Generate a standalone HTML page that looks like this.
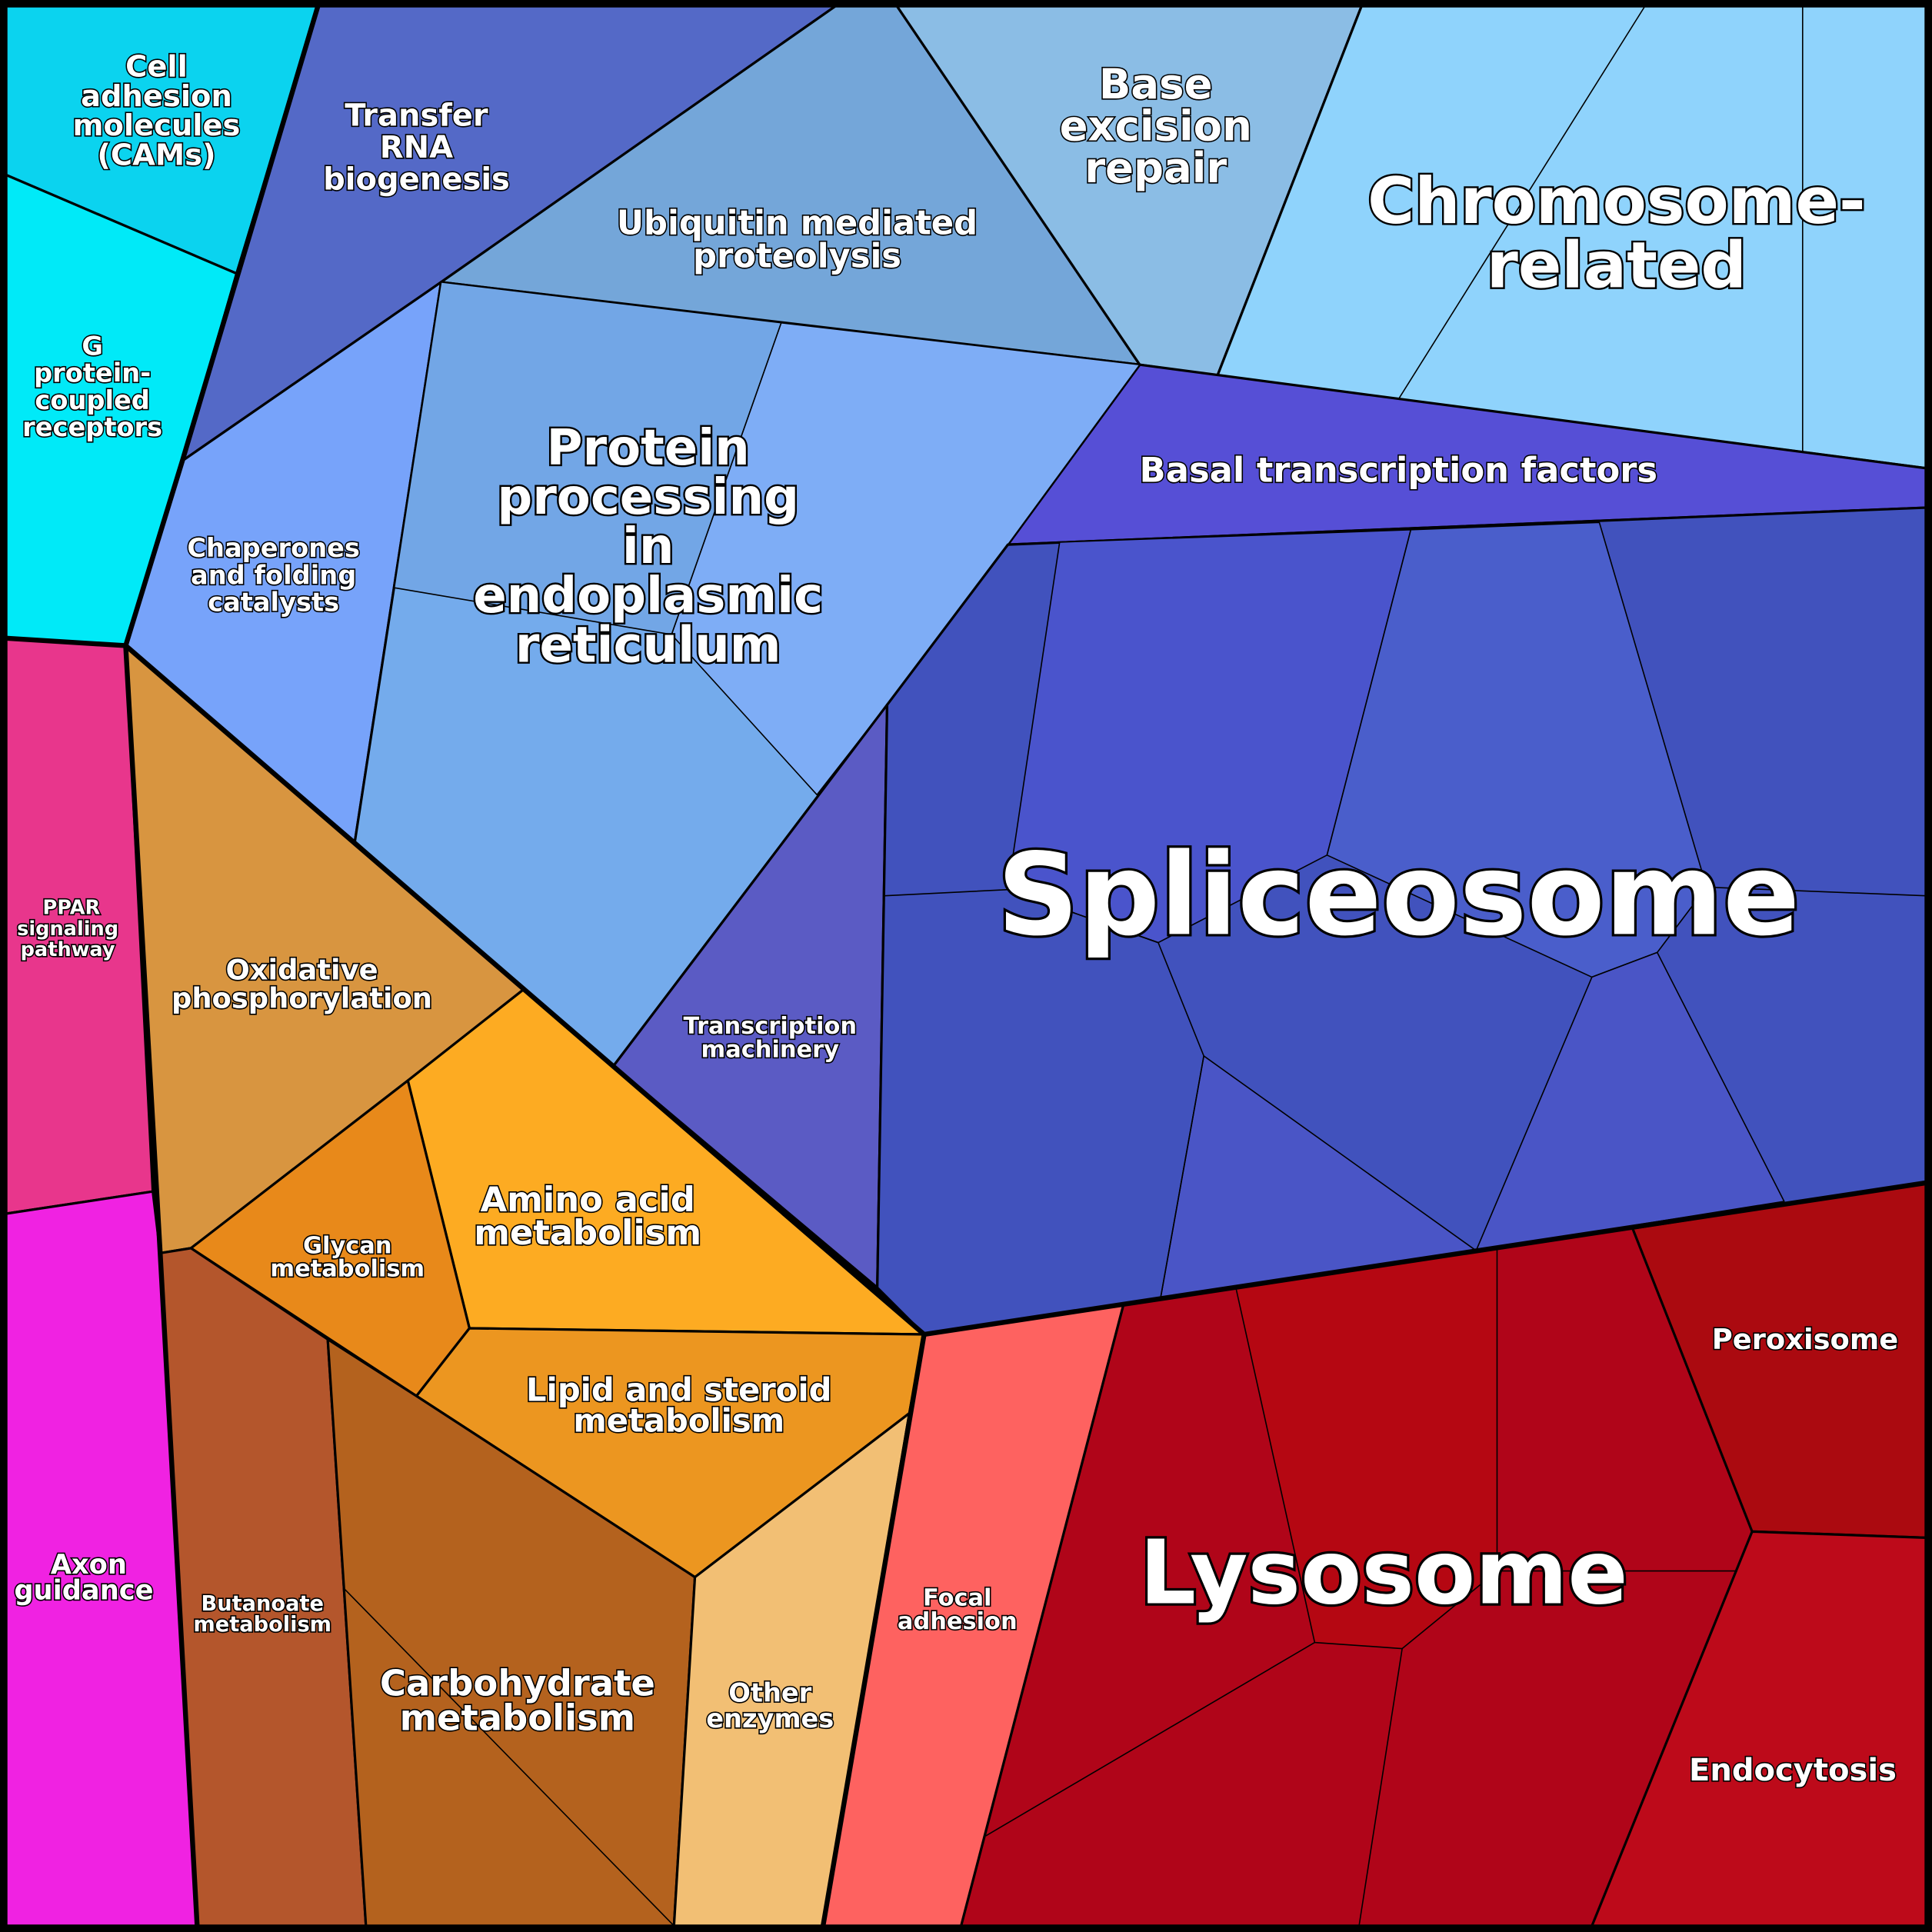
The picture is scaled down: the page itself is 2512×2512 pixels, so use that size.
<!DOCTYPE html>
<html><head><meta charset="utf-8"><style>
html,body{margin:0;padding:0;background:#000}
svg{display:block}
text{font-family:"DejaVu Sans","Liberation Sans",sans-serif;font-weight:bold;fill:#fff;stroke:#000;paint-order:stroke;text-anchor:middle}
</style></head><body>
<svg width="2512" height="2512" viewBox="0 0 1568 1568" xmlns="http://www.w3.org/2000/svg">
<rect x="0" y="0" width="1568" height="1568" fill="#000"/>
<g stroke="#000" stroke-width="2" stroke-linejoin="round">
<polygon points="5,5 258,5 192,222 5,142" fill="#0bd3ef"/>
<polygon points="5,142 192,222 148,374 102,524 5,518" fill="#00eaf8"/>
<polygon points="258,5 678,5 358,229 148,374 192,222" fill="#5469c7"/>
<polygon points="678,5 728,5 925,296 634,262 358,229" fill="#74a6d9"/>
<polygon points="728,5 1105,5 988,305 925,296" fill="#8bbde5"/>
<polygon points="1105,5 1563,5 1563,380 988,305" fill="#8fd3fc"/>
<polygon points="925,296 1563,380 1563,412 818,442" fill="#564fd6"/>
<polygon points="148,374 358,229 288,683 102,524" fill="#77a3fa"/>
<polygon points="358,229 925,296 818,442 720,572 498,865 425,803 288,683" fill="#74abec"/>
<polygon points="634,262 925,296 818,442 720,572 663,645 545,515" fill="#7eadf6" stroke-width="1"/>
<polygon points="358,229 634,262 545,515 320,477" fill="#72a6e6" stroke-width="1"/>
<polygon points="720,572 712,1045 498,865" fill="#5b5bc4"/>
<polygon points="818,442 1563,412 1563,960 750,1083 712,1045 720,572" fill="#4152bd"/>
<polygon points="860,440 1145,430 1077,694 940,765 818,722" fill="#4a54cc" stroke-width="1"/>
<polygon points="1145,430 1298,424 1385,720 1345,773 1292,793 1077,694" fill="#4a5ecb" stroke-width="1"/>
<polygon points="977,857 1198,1015 942,1053" fill="#4a55c6" stroke-width="1"/>
<polygon points="1292,793 1345,773 1448,975 1198,1015" fill="#4a55c6" stroke-width="1"/>
<polygon points="912,1058 1563,960 1563,1563 780,1563" fill="#b00519"/>
<polygon points="1003,1045 1215,1012 1215,1275 1138,1338 1067,1333" fill="#b50712" stroke-width="1"/>
<polygon points="750,1083 912,1058 780,1563 668,1563" fill="#fe6260"/>
<polygon points="1325,997 1563,960 1563,1248 1422,1243" fill="#ab0a10"/>
<polygon points="1422,1243 1563,1248 1563,1563 1292,1563" fill="#bd0a1a"/>
<polygon points="102,524 425,803 331,877 155,1013 130,1017" fill="#d89540"/>
<polygon points="331,877 425,803 750,1083 381,1078" fill="#fdab22"/>
<polygon points="155,1013 331,877 381,1078 338,1133" fill="#e8891a"/>
<polygon points="381,1078 750,1083 738,1147 564,1280 338,1133" fill="#ec9620"/>
<polygon points="130,1017 155,1013 266,1087 297,1563 160,1563" fill="#b4562c"/>
<polygon points="266,1087 338,1133 564,1280 547,1563 297,1563" fill="#b4621e"/>
<polygon points="564,1280 738,1147 668,1563 547,1563" fill="#f2bf74"/>
<polygon points="5,518 102,524 124,967 5,985" fill="#e8368c"/>
<polygon points="5,985 124,967 130,1017 160,1563 5,1563" fill="#f022e2"/>
</g>
<g stroke="#000" stroke-width="1" fill="none">
<line x1="1335" y1="5" x2="1135" y2="324"/>
<line x1="1463" y1="5" x2="1463" y2="367"/>
<polyline points="718,727 818,722 940,765"/>
<polyline points="940,765 977,857 942,1053"/>
<line x1="1385" y1="720" x2="1563" y2="727"/>
<line x1="1325" y1="997" x2="1422" y2="1243"/>
<line x1="1067" y1="1333" x2="800" y2="1490"/>
<line x1="1138" y1="1338" x2="1103" y2="1563"/>
<line x1="1215" y1="1275" x2="1410" y2="1275"/>
<line x1="280" y1="1290" x2="547" y2="1563"/>
</g>
<g stroke="#000" stroke-width="4" fill="none" stroke-linejoin="round">
<polyline points="5,518 102,524 148,374 258,5"/>
<line x1="102" y1="524" x2="750" y2="1083"/>
<polyline points="102,524 130,1017 160,1563"/>
<line x1="750" y1="1083" x2="668" y2="1563"/>
<line x1="750" y1="1083" x2="1563" y2="960"/>
<rect x="3" y="3" width="1562" height="1562" stroke-width="6"/>
</g>
<g>
<text x="127" y="62" font-size="24" stroke-width="2">Cell</text>
<text x="127" y="86" font-size="24" stroke-width="2">adhesion</text>
<text x="127" y="110" font-size="24" stroke-width="2">molecules</text>
<text x="127" y="134" font-size="24" stroke-width="2">(CAMs)</text>
<text x="75" y="288" font-size="21" stroke-width="2">G</text>
<text x="75" y="310" font-size="21" stroke-width="2">protein-</text>
<text x="75" y="332" font-size="21" stroke-width="2">coupled</text>
<text x="75" y="354" font-size="21" stroke-width="2">receptors</text>
<text x="338" y="102" font-size="25" stroke-width="2">Transfer</text>
<text x="338" y="128" font-size="25" stroke-width="2">RNA</text>
<text x="338" y="154" font-size="25" stroke-width="2">biogenesis</text>
<text x="647" y="190" font-size="27" stroke-width="2">Ubiquitin mediated</text>
<text x="647" y="217" font-size="27" stroke-width="2">proteolysis</text>
<text x="938" y="80" font-size="34" stroke-width="2">Base</text>
<text x="938" y="114" font-size="34" stroke-width="2">excision</text>
<text x="938" y="148" font-size="34" stroke-width="2">repair</text>
<text x="1312" y="181" font-size="52" stroke-width="3">Chromosome-</text>
<text x="1312" y="233" font-size="52" stroke-width="3">related</text>
<text x="1135" y="391" font-size="28" stroke-width="2">Basal transcription factors</text>
<text x="222" y="452" font-size="21" stroke-width="2">Chaperones</text>
<text x="222" y="474" font-size="21" stroke-width="2">and folding</text>
<text x="222" y="496" font-size="21" stroke-width="2">catalysts</text>
<text x="526" y="377" font-size="40" stroke-width="3">Protein</text>
<text x="526" y="417" font-size="40" stroke-width="3">processing</text>
<text x="526" y="457" font-size="40" stroke-width="3">in</text>
<text x="526" y="497" font-size="40" stroke-width="3">endoplasmic</text>
<text x="526" y="537" font-size="40" stroke-width="3">reticulum</text>
<text x="1135" y="758" font-size="92" stroke-width="4">Spliceosome</text>
<text x="625" y="839" font-size="19" stroke-width="2">Transcription</text>
<text x="625" y="858" font-size="19" stroke-width="2">machinery</text>
<text x="58" y="742" font-size="16" stroke-width="2">PPAR</text>
<text x="55" y="759" font-size="16" stroke-width="2">signaling</text>
<text x="55" y="776" font-size="16" stroke-width="2">pathway</text>
<text x="245" y="795" font-size="23" stroke-width="2">Oxidative</text>
<text x="245" y="818" font-size="23" stroke-width="2">phosphorylation</text>
<text x="477" y="983" font-size="28" stroke-width="2">Amino acid</text>
<text x="477" y="1010" font-size="28" stroke-width="2">metabolism</text>
<text x="282" y="1017" font-size="19" stroke-width="2">Glycan</text>
<text x="282" y="1036" font-size="19" stroke-width="2">metabolism</text>
<text x="551" y="1137" font-size="26" stroke-width="2">Lipid and steroid</text>
<text x="551" y="1162" font-size="26" stroke-width="2">metabolism</text>
<text x="72" y="1277" font-size="22" stroke-width="2">Axon</text>
<text x="68" y="1298" font-size="22" stroke-width="2">guidance</text>
<text x="213" y="1307" font-size="17" stroke-width="2">Butanoate</text>
<text x="213" y="1324" font-size="17" stroke-width="2">metabolism</text>
<text x="420" y="1376" font-size="29" stroke-width="2">Carbohydrate</text>
<text x="420" y="1404" font-size="29" stroke-width="2">metabolism</text>
<text x="625" y="1381" font-size="21" stroke-width="2">Other</text>
<text x="625" y="1402" font-size="21" stroke-width="2">enzymes</text>
<text x="777" y="1303" font-size="19" stroke-width="2">Focal</text>
<text x="777" y="1322" font-size="19" stroke-width="2">adhesion</text>
<text x="1123" y="1301" font-size="72" stroke-width="4">Lysosome</text>
<text x="1465" y="1095" font-size="23" stroke-width="2">Peroxisome</text>
<text x="1455" y="1445" font-size="25" stroke-width="2">Endocytosis</text>
</g>
</svg>
</body></html>
